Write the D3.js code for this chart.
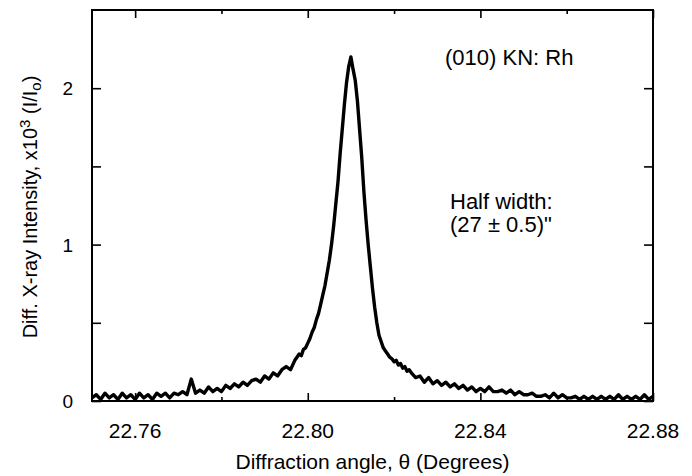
<!DOCTYPE html>
<html>
<head>
<meta charset="utf-8">
<script src="https://cdn.jsdelivr.net/npm/d3@7"></script>
<style>
  body { margin: 0; background: #fff; }
  text { font-family: "Liberation Sans", Arial, sans-serif; fill: #000; }
</style>
</head>
<body>
<svg id="chart" width="692" height="476"></svg>
<script>
// diffraction angle (degrees)
const angle = [
  22.750, 22.751, 22.752, 22.753, 22.754, 22.755, 22.756, 22.757, 22.758, 22.759,
  22.760, 22.761, 22.762, 22.763, 22.764, 22.765, 22.766, 22.767, 22.768, 22.769,
  22.770, 22.771, 22.772, 22.773, 22.774, 22.775, 22.776, 22.777, 22.778, 22.779,
  22.780, 22.781, 22.782, 22.783, 22.784, 22.785, 22.786, 22.787, 22.788, 22.789,
  22.790, 22.791, 22.792, 22.793, 22.794, 22.795, 22.796, 22.797,
  22.7975, 22.798, 22.7985, 22.799, 22.7995, 22.800, 22.8005, 22.801, 22.8015, 22.802,
  22.8025, 22.803, 22.8035, 22.804, 22.8045, 22.805, 22.8055, 22.806, 22.8065, 22.807,
  22.8075, 22.808, 22.8085, 22.809, 22.8095, 22.810, 22.8105, 22.811, 22.8115, 22.812,
  22.8125, 22.813, 22.8135, 22.814, 22.8145, 22.815, 22.8155, 22.816, 22.8165, 22.817,
  22.8175, 22.818, 22.8185, 22.819, 22.8195, 22.820, 22.8205, 22.821, 22.8215, 22.822,
  22.8225, 22.823, 22.8235,
  22.824, 22.825, 22.826, 22.827, 22.828, 22.829, 22.830, 22.831, 22.832, 22.833,
  22.834, 22.835, 22.836, 22.837, 22.838, 22.839, 22.840, 22.841, 22.842, 22.843,
  22.844, 22.845, 22.846, 22.847, 22.848, 22.849, 22.850, 22.851, 22.852, 22.853,
  22.854, 22.855, 22.856, 22.857, 22.858, 22.859, 22.860, 22.861, 22.862, 22.863,
  22.864, 22.865, 22.866, 22.867, 22.868, 22.869, 22.870, 22.871, 22.872, 22.873,
  22.874, 22.875, 22.876, 22.877, 22.878, 22.879, 22.880
];

// diff. x-ray intensity, x10^3 (I/Io)
const intensity = [
  0.02, 0.04, 0.01, 0.05, 0.02, 0.04, 0.01, 0.05, 0.02, 0.04,
  0.01, 0.05, 0.02, 0.04, 0.01, 0.05, 0.03, 0.05, 0.02, 0.05,
  0.04, 0.06, 0.04, 0.14, 0.05, 0.07, 0.05, 0.09, 0.06, 0.08,
  0.06, 0.10, 0.08, 0.11, 0.09, 0.12, 0.10, 0.13, 0.14, 0.12,
  0.16, 0.14, 0.18, 0.16, 0.20, 0.22, 0.20, 0.26,
  0.28, 0.30, 0.29, 0.33, 0.34, 0.37, 0.40, 0.44, 0.47, 0.52,
  0.56, 0.62, 0.68, 0.74, 0.82, 0.90, 1.00, 1.12, 1.26, 1.40,
  1.58, 1.74, 1.90, 2.04, 2.14, 2.20, 2.12, 2.05, 1.92, 1.74,
  1.56, 1.34, 1.16, 1.00, 0.86, 0.72, 0.60, 0.50, 0.42, 0.38,
  0.34, 0.32, 0.30, 0.28, 0.27, 0.25, 0.26, 0.23, 0.24, 0.21,
  0.22, 0.19, 0.20,
  0.18, 0.15, 0.16, 0.12, 0.15, 0.11, 0.13, 0.10, 0.12, 0.09,
  0.11, 0.08, 0.10, 0.07, 0.09, 0.06, 0.08, 0.06, 0.09, 0.06,
  0.06, 0.07, 0.05, 0.07, 0.04, 0.06, 0.04, 0.04, 0.05, 0.03,
  0.03, 0.04, 0.02, 0.05, 0.02, 0.04, 0.02, 0.02, 0.03, 0.01,
  0.03, 0.01, 0.03, 0.01, 0.03, 0.01, 0.03, 0.01, 0.04, 0.01,
  0.03, 0.01, 0.03, 0.01, 0.04, 0.01, 0.03
];

const xMajorTicks = [22.76, 22.80, 22.84, 22.88];
const xMinorTicks = [22.78, 22.82, 22.86];
const yMajorTicks = [0, 1, 2];
const yMinorTicks = [0.5, 1.5];

const svg = d3.select("#chart");
const margin = { top: 10, right: 39, bottom: 75, left: 92 };
const width = 692 - margin.left - margin.right;
const height = 476 - margin.top - margin.bottom;

const x = d3.scaleLinear().domain([22.75, 22.88]).range([0, width]);
const y = d3.scaleLinear().domain([0, 2.5]).range([height, 0]);

const g = svg.append("g").attr("transform", `translate(${margin.left},${margin.top})`);

// data line
const data = angle.map((a, i) => ({ a: a, v: intensity[i] }));
const line = d3.line().x(d => x(d.a)).y(d => y(d.v));
g.append("path")
    .datum(data)
    .attr("d", line)
    .attr("fill", "none")
    .attr("stroke", "#000")
    .attr("stroke-width", 3.4)
    .attr("stroke-linejoin", "round");

// axes, ticks pointing inward
function styleAxis(sel) {
    sel.select(".domain").remove();
    sel.selectAll("line").attr("stroke", "#000").attr("stroke-width", 1.6);
    sel.selectAll("text").remove();
}

g.append("g").attr("transform", `translate(0,${height})`)
    .call(d3.axisBottom(x).tickValues(xMajorTicks).tickSize(-8)).call(styleAxis);
g.append("g").attr("transform", `translate(0,${height})`)
    .call(d3.axisBottom(x).tickValues(xMinorTicks).tickSize(-4)).call(styleAxis);
g.append("g")
    .call(d3.axisTop(x).tickValues(xMajorTicks).tickSize(-8)).call(styleAxis);
g.append("g")
    .call(d3.axisTop(x).tickValues(xMinorTicks).tickSize(-4)).call(styleAxis);
g.append("g")
    .call(d3.axisLeft(y).tickValues(yMajorTicks.concat(yMinorTicks)).tickSize(-9)).call(styleAxis);
g.append("g").attr("transform", `translate(${width},0)`)
    .call(d3.axisRight(y).tickValues(yMajorTicks.concat(yMinorTicks)).tickSize(-9)).call(styleAxis);

// frame
g.append("rect")
    .attr("width", width).attr("height", height)
    .attr("fill", "none").attr("stroke", "#000").attr("stroke-width", 2);

// tick labels
g.selectAll(".xlab").data(xMajorTicks).enter().append("text")
    .attr("x", d => x(d)).attr("y", height + 37)
    .attr("text-anchor", "middle").attr("font-size", 21)
    .text(d => d.toFixed(2));
g.selectAll(".ylab").data(yMajorTicks).enter().append("text")
    .attr("x", -19).attr("y", d => y(d) + 7)
    .attr("text-anchor", "end").attr("font-size", 19)
    .text(d => d);

// axis titles
g.append("text")
    .attr("x", width / 2).attr("y", height + 68)
    .attr("text-anchor", "middle").attr("font-size", 21)
    .text("Diffraction angle, \u03b8 (Degrees)");

const yt = g.append("text")
    .attr("transform", `translate(-55,${197}) rotate(-90)`)
    .attr("text-anchor", "middle").attr("font-size", 20);
yt.append("tspan").text("Diff. X-ray Intensity, x10");
yt.append("tspan").attr("dy", -7).attr("font-size", 15).text("3");
yt.append("tspan").attr("dy", 7).text(" (I/I");
yt.append("tspan").attr("dy", 4).attr("font-size", 15).text("o");
yt.append("tspan").attr("dy", -4).text(")");

// annotations
g.append("text").attr("x", 353).attr("y", 55)
    .attr("font-size", 22).text("(010) KN: Rh");
g.append("text").attr("x", 358).attr("y", 199)
    .attr("font-size", 22).text("Half width:");
g.append("text").attr("x", 358).attr("y", 222)
    .attr("font-size", 22).text("(27 \u00b1 0.5)\"");
</script>
</body>
</html>
